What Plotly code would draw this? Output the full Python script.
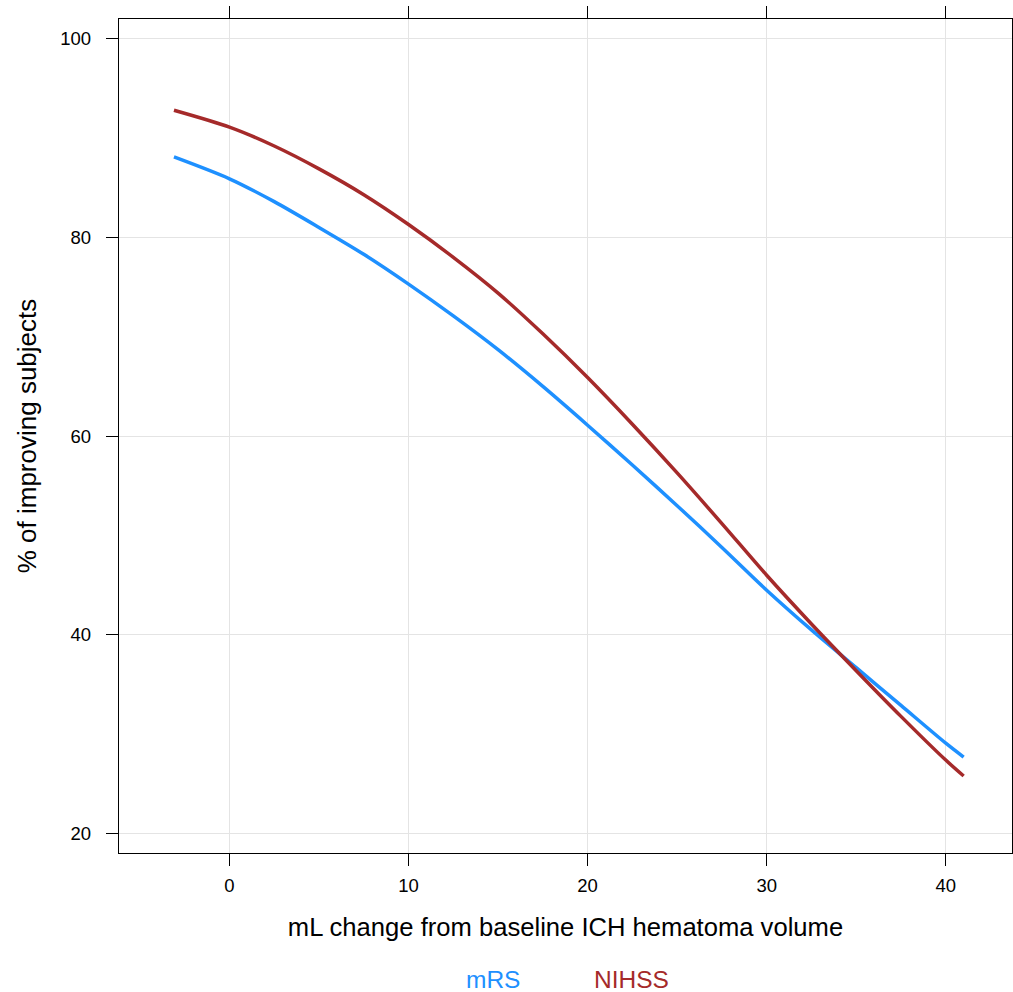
import plotly.graph_objects as go

# Data
x_vals = [-3.1, 0, 2.5, 5, 7.5, 10, 12.5, 15, 17.5, 20, 22.5, 25, 27.5, 30, 32.5, 35, 37.5, 40, 41]
mrs_vals = [88.1, 85.9, 83.6, 81.0, 78.3, 75.3, 72.1, 68.7, 65.0, 61.1, 57.1, 53.0, 48.8, 44.5, 40.5, 36.7, 32.9, 29.1, 27.7]
nihss_vals = [92.8, 91.1, 89.2, 86.9, 84.3, 81.3, 78.0, 74.4, 70.3, 65.9, 61.2, 56.3, 51.2, 46.0, 41.1, 36.4, 31.8, 27.4, 25.8]

series_names = ["mRS", "NIHSS"]
series_colors = ["#1E90FF", "#A52A2A"]

x_ticks = [0, 10, 20, 30, 40]
y_ticks = [20, 40, 60, 80, 100]

FONT = "Liberation Sans, Arial, sans-serif"

fig = go.Figure()
for name, vals, col in zip(series_names, [mrs_vals, nihss_vals], series_colors):
    fig.add_trace(go.Scatter(
        x=x_vals, y=vals, mode="lines", name=name,
        line=dict(color=col, width=3.5, shape="spline", smoothing=0.8),
        showlegend=False,
    ))

fig.update_layout(
    width=1013, height=992,
    margin=dict(l=119, r=1, t=19, b=139),
    paper_bgcolor="white", plot_bgcolor="white",
    font=dict(family=FONT, color="black", size=18.5),
    xaxis=dict(
        range=[-6.17, 43.7], tickvals=x_ticks, ticks="outside", ticklen=12,
        tickwidth=1.3, tickcolor="black", showline=True, linecolor="black",
        linewidth=1.3, mirror="ticks", showgrid=True, gridcolor="#E4E4E4",
        gridwidth=1.3, zeroline=False, tickfont=dict(size=18.5),
        ticklabelstandoff=4,
        title=dict(text="mL change from baseline ICH hematoma volume",
                   font=dict(size=25.6), standoff=22),
    ),
    yaxis=dict(
        range=[18.05, 101.98], tickvals=y_ticks, ticks="outside", ticklen=12,
        tickwidth=1.3, tickcolor="black", showline=True, linecolor="black",
        linewidth=1.3, mirror=True, showgrid=True, gridcolor="#E4E4E4",
        gridwidth=1.3, zeroline=False, tickfont=dict(size=18.5),
        ticklabelstandoff=11,
        title=dict(text="% of improving subjects", font=dict(size=26),
                   standoff=16),
    ),
)

legend_x = [0.4186, 0.5735]
for name, col, lx in zip(series_names, series_colors, legend_x):
    fig.add_annotation(
        text=name, x=lx, y=-0.152, xref="paper", yref="paper",
        showarrow=False, xanchor="center", yanchor="middle",
        font=dict(size=24.5, color=col, family=FONT),
    )

fig.write_html("out.html")
